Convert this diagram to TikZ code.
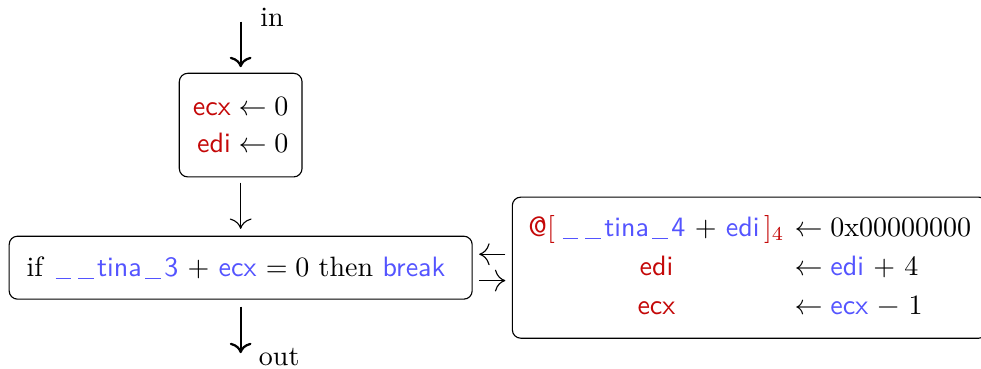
\documentclass[tikz,border=0pt]{standalone}
\usetikzlibrary{positioning,arrows.meta}

\definecolor{wrred}{RGB}{196,8,8}
\definecolor{rdblue}{RGB}{84,84,255}
\newcommand{\wreg}[1]{\textcolor{wrred}{\textsf{#1}}}
\newcommand{\rsym}[1]{\textcolor{rdblue}{\textsf{#1}}}
% spaced underscore
\newcommand{\usc}{\kern1.2pt\rule[-0.9pt]{5.6pt}{0.45pt}\kern1.2pt}

\begin{document}
\begin{tikzpicture}[->,>={To[scale=1.5]},thin,
  blk/.style={draw,rounded corners=3pt,thin},
  flow/.style={thick,-{To[scale=1.1]}}]
\useasboundingbox (-3.02,1.57) rectangle (9.29,-3.06);

\node[blk,align=right,minimum width=1.54cm,minimum height=1.3cm] (init) at (0,0)
  {$\wreg{ecx}\leftarrow 0$\\[1pt]$\wreg{edi}\leftarrow 0$};
\node[blk,inner xsep=5.4pt,minimum width=5.81cm,minimum height=0.79cm,below=0.73cm of init] (test)
  {if \rsym{\usc\usc tina\usc 3} $+$ \rsym{ecx} $=0$ then \rsym{break}\ \null};
\node[blk,inner xsep=3.9pt,minimum height=1.77cm,right=0.49cm of test] (body)
  {\setlength\tabcolsep{1.8pt}\renewcommand\arraystretch{1.15}%
   \begin{tabular}{cl}
   \textcolor{wrred}{\textsf{@}[}\,\rsym{\usc\usc tina\usc 4} \textsf{+} \rsym{edi}\,\textcolor{wrred}{]$_4$} & $\leftarrow{}$0x00000000\\
   \wreg{edi} & $\leftarrow{}$\rsym{edi} \textsf{+} 4\\
   \wreg{ecx} & $\leftarrow{}$\rsym{ecx} \textsf{\textminus} 1
   \end{tabular}};

\coordinate[above=0.64cm of init] (entry);
\coordinate[below=0.67cm of test] (exit);

\draw[flow,shorten >=2pt] (entry) node[anchor=base west,xshift=3.3pt,yshift=-1.6pt] {in} -- (init);
\draw[shorten <=1.8pt,shorten >=2.4pt] (init) -- (test);
\draw[flow,shorten <=2.5pt] (test) -- (exit) node[anchor=base west,xshift=2.8pt,yshift=-4.5pt] {out};

% loop body and back
\draw[shorten <=2.3pt,shorten >=2.3pt] ([yshift=4.8pt]body.west) -- ([yshift=4.8pt]test.east);
\draw[shorten <=2.3pt,shorten >=2.3pt] ([yshift=-4.6pt]test.east) -- ([yshift=-4.6pt]body.west);
\end{tikzpicture}
\end{document}
